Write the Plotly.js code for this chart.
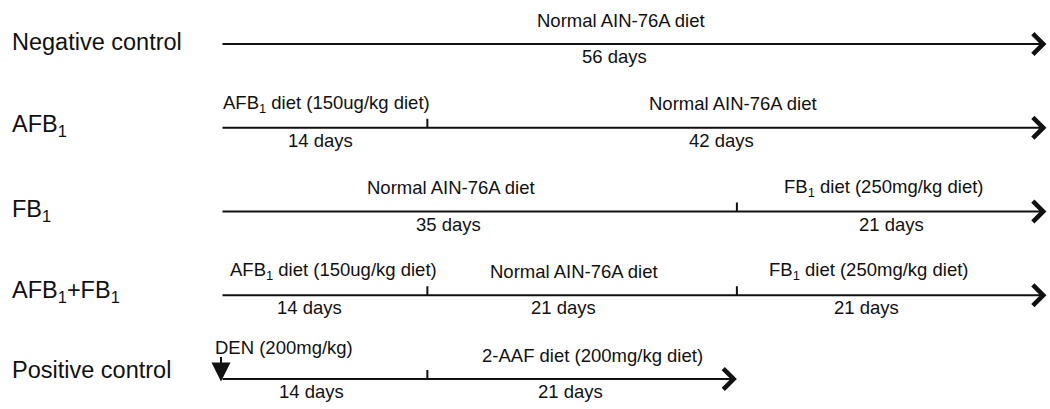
<!DOCTYPE html>
<html>
<head>
<meta charset="utf-8">
<script src="https://cdn.plot.ly/plotly-3.0.1.min.js"></script>
<style>
  html, body { margin: 0; padding: 0; background: #fff; }
  #chart { width: 1050px; height: 409px; }
</style>
</head>
<body>
<div id="chart"></div>
<script>
// ---------------- DATA ----------------
const groups = ['Negative control', 'AFB<sub>1</sub>', 'FB<sub>1</sub>', 'AFB<sub>1</sub>+FB<sub>1</sub>', 'Positive control'];

const negDays   = [56];
const negDiets  = ['Normal AIN-76A diet'];

const afbDays   = [14, 42];
const afbDiets  = ['AFB<sub>1</sub> diet (150ug/kg diet)', 'Normal AIN-76A diet'];

const fbDays    = [35, 21];
const fbDiets   = ['Normal AIN-76A diet', 'FB<sub>1</sub> diet (250mg/kg diet)'];

const comboDays  = [14, 21, 21];
const comboDiets = ['AFB<sub>1</sub> diet (150ug/kg diet)', 'Normal AIN-76A diet', 'FB<sub>1</sub> diet (250mg/kg diet)'];

const posDays   = [14, 21];
const posDiets  = ['', '2-AAF diet (200mg/kg diet)'];
const posInjection = 'DEN (200mg/kg)';
const posInjectionDay = 0;

const rowDays  = [negDays, afbDays, fbDays, comboDays, posDays];
const rowDiets = [negDiets, afbDiets, fbDiets, comboDiets, posDiets];

// ---------------- LAYOUT / STYLE ----------------
const W = 1050, H = 409;
const X0 = 221, PXPD = 14.74;          // pixel of day 0, pixels per day
const Y0 = 44, ROWGAP = 83.75;          // pixel of first row, row spacing
const INK = '#111111';
const FONT = 'Arial, "Liberation Sans", Helvetica, sans-serif';
const LABEL_SIZE = 23.5, TEXT_SIZE = 18.5;

// per-label fine position offsets (pixels)
const dietShift = [[-13], [2, -4], [-28, -8], [9, -8, -23], [0, 10]];
const dayShift  = [[-19], [-4, -15], [-30, 0], [-15, -19, -25], [-13, -12]];
const groupYShift = [2, 2.5, 1.5, 4, 9];
const ABOVE = 24, BELOW = -12.5;
const TICK = 9 / ROWGAP;

const annotations = [];
const tickX = [], tickY = [];

rowDays.forEach((days, k) => {
  let start = 0;
  days.forEach((d, i) => {
    const end = start + d;
    const mid = (start + end) / 2;
    if (rowDiets[k][i]) {
      annotations.push({x: mid, y: k, xref: 'x', yref: 'y', text: rowDiets[k][i], showarrow: false,
        xanchor: 'center', yanchor: 'middle', xshift: dietShift[k][i], yshift: ABOVE,
        font: {family: FONT, size: TEXT_SIZE, color: INK}});
    }
    annotations.push({x: mid, y: k, xref: 'x', yref: 'y', text: d + ' days', showarrow: false,
      xanchor: 'center', yanchor: 'middle', xshift: dayShift[k][i], yshift: BELOW,
      font: {family: FONT, size: TEXT_SIZE, color: INK}});
    if (i < days.length - 1) {
      tickX.push(end, end, null);
      tickY.push(k, k - TICK, null);
    }
    start = end;
  });
  // timeline arrow
  annotations.push({x: start, y: k, ax: 0, ay: k, xref: 'x', yref: 'y', axref: 'x', ayref: 'y',
    text: '', showarrow: true, arrowhead: 4, arrowsize: 2, arrowwidth: 2, arrowcolor: INK, standoff: 0});
  // group label
  annotations.push({x: 10 / W, y: k, xref: 'paper', yref: 'y', text: groups[k], showarrow: false,
    xanchor: 'left', yanchor: 'middle', yshift: groupYShift[k],
    font: {family: FONT, size: LABEL_SIZE, color: INK}});
});

// DEN injection arrow (down) on the positive control row
annotations.push({x: posInjectionDay, y: 4 + 0.03, xref: 'x', yref: 'y', ax: 0, ay: -26,
  text: '', showarrow: true, arrowhead: 2, arrowsize: 1.9, arrowwidth: 2, arrowcolor: INK, standoff: 0});
annotations.push({x: posInjectionDay, y: 4, xref: 'x', yref: 'y', text: posInjection, showarrow: false,
  xanchor: 'left', yanchor: 'middle', xshift: -8, yshift: 32,
  font: {family: FONT, size: TEXT_SIZE, color: INK}});

const traces = [{
  x: tickX, y: tickY, mode: 'lines', type: 'scatter',
  line: {color: INK, width: 2}, hoverinfo: 'skip', showlegend: false
}];

const layout = {
  width: W, height: H,
  margin: {l: 0, r: 0, t: 0, b: 0},
  paper_bgcolor: '#ffffff', plot_bgcolor: '#ffffff',
  showlegend: false,
  xaxis: {range: [-X0 / PXPD, (W - X0) / PXPD], visible: false, fixedrange: true},
  yaxis: {range: [(H - Y0) / ROWGAP, -Y0 / ROWGAP], visible: false, fixedrange: true},
  annotations: annotations
};

Plotly.newPlot('chart', traces, layout, {displayModeBar: false, staticPlot: true});
</script>
</body>
</html>
